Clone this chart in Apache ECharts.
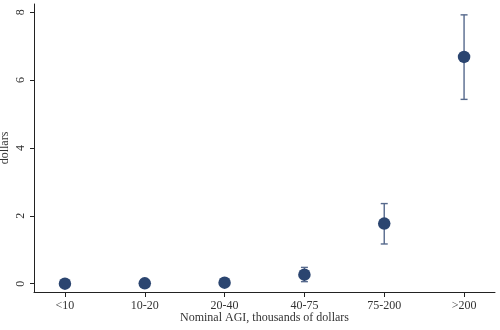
<!DOCTYPE html>
<html>
<head>
<meta charset="utf-8">
<script src="https://cdn.jsdelivr.net/npm/echarts@6/dist/echarts.min.js"></script>
<style>
  html, body { margin: 0; padding: 0; background: #fff; }
  #chart { width: 500px; height: 330px; }
</style>
</head>
<body>
<div id="chart"></div>
<script>
// Income groups (nominal AGI, thousands of dollars)
const categories = ['<10', '10-20', '20-40', '40-75', '75-200', '>200'];
// Point estimates, dollars
const estimates = [0.0, 0.01, 0.03, 0.265, 1.77, 6.68];
// Confidence interval bounds, dollars
const lowerBounds = [0.0, 0.0, 0.02, 0.06, 1.17, 5.43];
const upperBounds = [0.0, 0.02, 0.04, 0.48, 2.36, 7.92];
// Y-axis tick values
const yTicks = [0, 2, 4, 6, 8];

const FONT = 'Liberation Serif';
const TEXT = '#333';
const MARK = '#2b4570';
const BAR = '#56698c';

const xIdx = categories.map((_, i) => i);

const chart = echarts.init(document.getElementById('chart'), null, { renderer: 'canvas' });
chart.setOption({
  animation: false,
  backgroundColor: '#fff',
  grid: { left: 34, right: 5, top: 4, bottom: 38, containLabel: false, outerBoundsMode: 'none' },
  xAxis: {
    type: 'value',
    min: -0.3875,
    max: 5.3875,
    name: 'Nominal AGI, thousands of dollars',
    nameLocation: 'middle',
    nameMoveOverlap: false,
    nameGap: 20,
    nameTextStyle: { fontFamily: FONT, fontSize: 12, color: TEXT },
    axisLine: { show: true, onZero: false, lineStyle: { color: '#222', width: 1 } },
    axisTick: { show: true, length: 5, customValues: xIdx, lineStyle: { color: '#222' } },
    axisLabel: {
      customValues: xIdx,
      margin: 8,
      fontFamily: FONT, fontSize: 12, color: TEXT,
      formatter: v => categories[Math.round(v)]
    },
    splitLine: { show: false }
  },
  yAxis: {
    type: 'value',
    min: -0.245,
    max: 8.24,
    name: 'dollars',
    nameLocation: 'middle',
    nameMoveOverlap: false,
    nameRotate: 90,
    nameGap: 23,
    nameTextStyle: { fontFamily: FONT, fontSize: 12, color: TEXT },
    axisLine: { show: true, onZero: false, lineStyle: { color: '#222', width: 1 } },
    axisTick: { show: true, length: 4, customValues: yTicks, lineStyle: { color: '#222' } },
    axisLabel: {
      customValues: yTicks,
      rotate: 90,
      margin: 7,
      fontFamily: FONT, fontSize: 12, color: TEXT
    },
    splitLine: { show: false }
  },
  series: [
    {
      // capped error bars
      type: 'custom',
      data: xIdx.map(i => [i, lowerBounds[i], upperBounds[i]]),
      renderItem: function (params, api) {
        const x = api.value(0);
        const lo = api.coord([x, api.value(1)]);
        const hi = api.coord([x, api.value(2)]);
        const half = 3.5;
        const style = { stroke: BAR, lineWidth: 1.4 };
        return {
          type: 'group',
          children: [
            { type: 'line', shape: { x1: lo[0], y1: lo[1], x2: hi[0], y2: hi[1] }, style },
            { type: 'line', shape: { x1: hi[0] - half, y1: hi[1], x2: hi[0] + half, y2: hi[1] }, style },
            { type: 'line', shape: { x1: lo[0] - half, y1: lo[1], x2: lo[0] + half, y2: lo[1] }, style }
          ]
        };
      },
      z: 2
    },
    {
      type: 'scatter',
      data: xIdx.map(i => [i, estimates[i]]),
      symbol: 'circle',
      symbolSize: 12.5,
      itemStyle: { color: MARK, opacity: 1 },
      z: 3
    }
  ]
});
</script>
</body>
</html>
